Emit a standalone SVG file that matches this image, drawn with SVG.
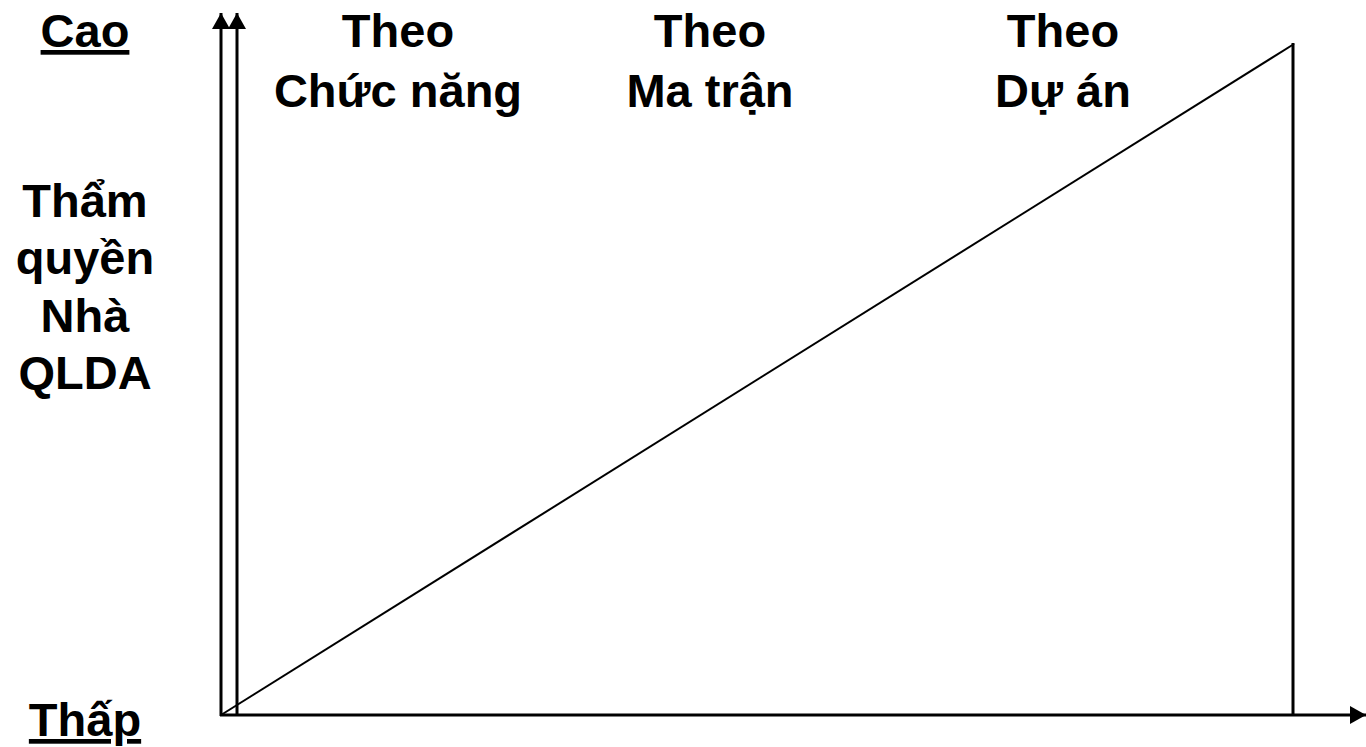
<svg xmlns="http://www.w3.org/2000/svg" width="1366" height="747" viewBox="0 0 1366 747">
<style>
.t{font-family:"Liberation Sans",Arial,sans-serif;font-weight:bold;font-size:47px;fill:#000;text-anchor:middle}
.u{text-decoration:underline}
.ln{stroke:#000;stroke-width:3;fill:none}
</style>
<defs>
<marker id="ah2" viewBox="0 0 16 18" markerWidth="16" markerHeight="18" refX="16" refY="9" orient="auto" markerUnits="userSpaceOnUse">
<path d="M0,0 L16,9 L0,18 z" fill="#000"/>
</marker>
</defs>
<g id="connectors">
<line class="ln" x1="221" y1="716" x2="221" y2="13" marker-end="url(#ah2)"/>
<line class="ln" x1="237" y1="716" x2="237" y2="13" marker-end="url(#ah2)"/>
<line class="ln" x1="220" y1="715" x2="1366" y2="715" marker-end="url(#ah2)"/>
<line stroke="#000" stroke-width="2" x1="221" y1="715" x2="1294" y2="44"/>
<line class="ln" x1="1293" y1="43" x2="1293" y2="715"/>
</g>
<g id="label-cao"><text class="t u" x="85" y="47">Cao</text></g>
<g id="label-thap"><text class="t u" x="85" y="736">Thấp</text></g>
<g id="label-axis">
<text class="t" x="85" y="217">Thẩm</text>
<text class="t" x="85" y="274">quyền</text>
<text class="t" x="85" y="332">Nhà</text>
<text class="t" x="85" y="389">QLDA</text>
</g>
<g id="node-chucnang">
<text class="t" x="398" y="47">Theo</text>
<text class="t" x="398" y="107">Chức năng</text>
</g>
<g id="node-matran">
<text class="t" x="710" y="47">Theo</text>
<text class="t" x="710" y="107">Ma trận</text>
</g>
<g id="node-duan">
<text class="t" x="1063" y="47">Theo</text>
<text class="t" x="1063" y="107">Dự án</text>
</g>
</svg>
